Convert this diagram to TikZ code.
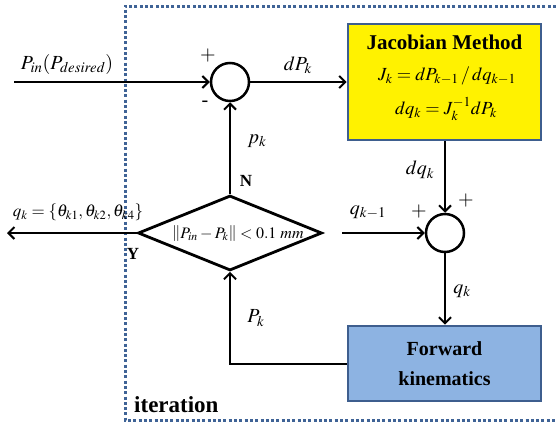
\documentclass[tikz,border=0pt]{standalone}
\usepackage{mathptmx}
\usepackage[no-math]{fontspec}
\setmainfont{Liberation Serif}
\usetikzlibrary{arrows.meta,shapes.geometric}
\definecolor{frameblue}{HTML}{3F6396}
\definecolor{boxborder}{HTML}{3E5E8E}
\definecolor{fkfill}{HTML}{8DB3E2}
\tikzset{
  sumc/.style={circle, draw, line width=2.5pt, minimum size=38pt, inner sep=0pt},
  jacbox/.style={draw=boxborder, fill=yellow, line width=2.8pt, minimum width=193pt, minimum height=116pt, align=center, inner sep=0pt},
  fkbox/.style={draw=boxborder, fill=fkfill, line width=2.8pt, minimum width=193pt, minimum height=75pt, align=center, inner sep=0pt},
  decision/.style={diamond, draw, line width=2.8pt, minimum width=184pt, minimum height=75pt, inner sep=0pt},
  lbl/.style={font=\fontsize{20}{24}\selectfont, inner sep=0pt},
  sign/.style={font=\fontsize{20}{22}\selectfont, inner sep=0pt},
  yn/.style={font=\fontsize{17}{20}\selectfont\bfseries, inner sep=0pt},
  conn/.style={line width=2pt, -{Straight Barb[length=6pt,width=12pt,line width=2pt]}}
}
\begin{document}
\begin{tikzpicture}[x=1pt,y=-1pt]
\useasboundingbox (0,0) rectangle (556,426);
% iteration frame
\draw[frameblue, line width=3pt, dash pattern=on 3pt off 2.3pt] (556,6) -- (125,6) -- (125,420) -- (556,420);
\node[font=\fontsize{23}{26}\selectfont\bfseries, inner sep=0pt, anchor=west] (iter) at (134,405) {iteration};

% nodes
\node[sumc] (s1) at (230,82) {};
\node[sumc] (s2) at (445,233) {};
\node[jacbox] (jac) at (444.5,82) {};
\node[font=\fontsize{21}{24}\selectfont\bfseries, inner sep=0pt] (jact) at (444.5,42) {Jacobian Method};
\node[font=\fontsize{18.5}{22}\selectfont, inner sep=0pt] (jac1) at (447,76) {$J_{k} = dP_{k-1}\,/\,dq_{k-1}$};
\node[font=\fontsize{18.5}{22}\selectfont, inner sep=0pt] (jac2) at (446,109) {$dq_{k} = J_{k}^{-1}dP_{k}$};
\node[fkbox, font=\fontsize{20}{30}\selectfont\bfseries] (fk) at (444.5,363.5) {Forward\\kinematics};
\node[decision] (dia) at (230,233) {};
\node[font=\fontsize{16}{20}\selectfont, inner sep=0pt] (diat) at (238,234) {$\left\| P_{in} - P_{k} \right\| < 0.1\ mm$};

\coordinate (in) at (14,82);
\coordinate (out) at (7,233);
\coordinate (qkm) at (342,233);

% connectors
\draw[conn] (in) -- (s1.west);
\draw[conn] (s1.east) -- (jac.west |- s1.east);
\draw[conn] (dia.north) -- (s1.south);
\draw[conn] (dia.west) -- (out);
\draw[conn] (qkm) -- (s2.west);
\draw[conn] (jac.south -| s2.north) -- (s2.north);
\draw[conn] (s2.south) -- (fk.north -| s2.south);
\draw[conn] (fk.west) -| (dia.south);

% labels
\node[lbl] (lin) at (67,64) {$P_{in}(P_{desired})$};
\node[lbl] (ldp) at (298,65) {$dP_{k}$};
\node[lbl] (lpk) at (257,141) {$p_{k}$};
\node[yn] (ln) at (246,181) {N};
\node[font=\fontsize{17}{20}\selectfont, inner sep=0pt] (lout) at (78,212) {$q_{k} = \{\theta_{k1},\theta_{k2},\theta_{k4}\}$};
\node[yn] (ly) at (133,254) {Y};
\node[lbl] (lqkm) at (368,212) {$q_{k-1}$};
\node[lbl] (ldq) at (420,170) {$dq_{k}$};
\node[lbl] (lqk) at (462,291) {$q_{k}$};
\node[lbl] (lpk2) at (256,318) {$P_{k}$};
\node[sign] (p1) at (208,56) {$+$};
\node[sign] (m1) at (205,104) {-};
\node[sign] (p2) at (419,211) {$+$};
\node[sign] (p3) at (466,200) {$+$};
\end{tikzpicture}
\end{document}
